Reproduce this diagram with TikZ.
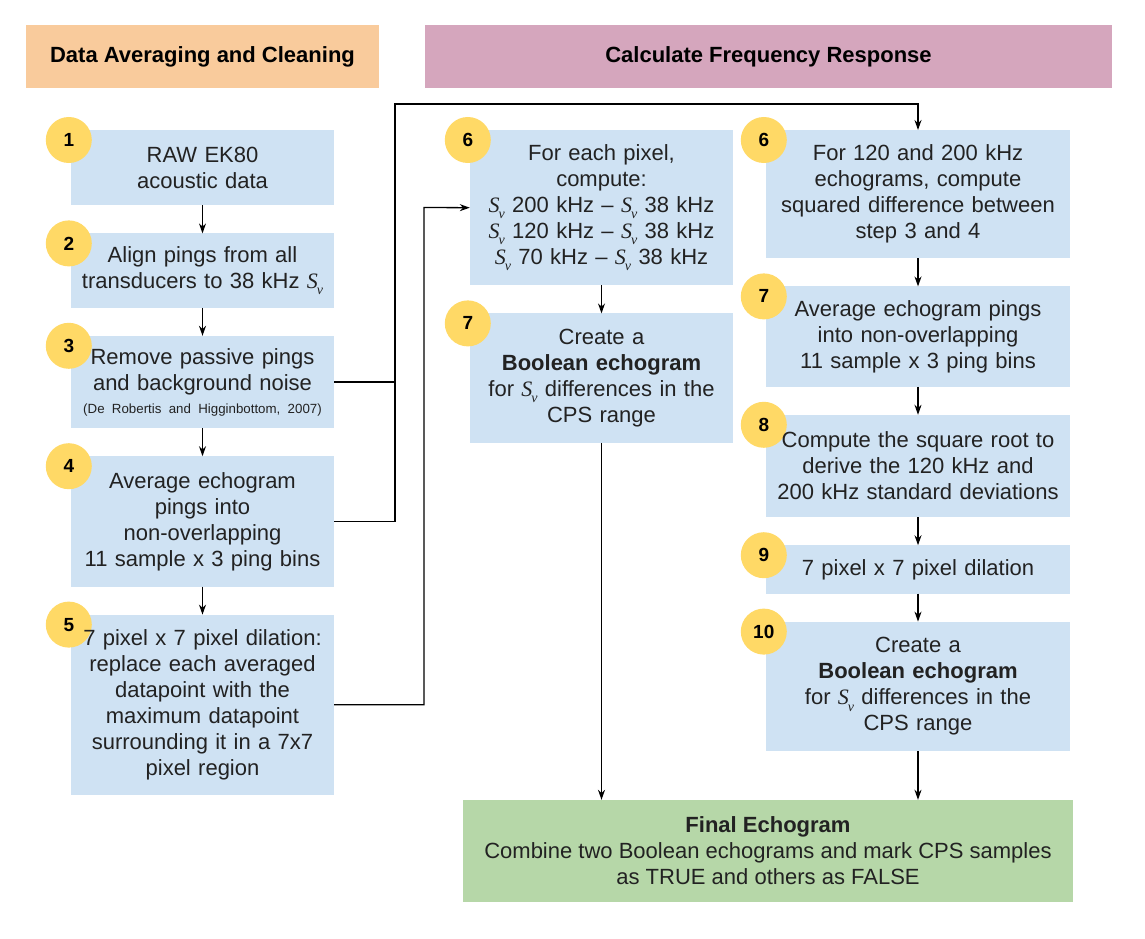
\documentclass[tikz,border=0pt]{standalone}
\usepackage{fontspec}
\setmainfont{Liberation Sans}
\newfontfamily\svserif{Liberation Serif}
\usetikzlibrary{arrows.meta,positioning,calc,backgrounds}
\definecolor{StepBlue}{HTML}{CFE2F3}
\definecolor{TagYellow}{HTML}{FFD966}
\definecolor{CleanOrange}{HTML}{F9CB9C}
\definecolor{FreqPink}{HTML}{D5A6BD}
\definecolor{FinalGreen}{HTML}{B6D7A8}
\definecolor{InkGray}{HTML}{222222}
\newcommand{\Sv}{{\svserif\itshape S}\kern-1pt\raisebox{-0.55ex}{\svserif\itshape\fontsize{14}{14}\selectfont v}}
\newcommand{\citefont}{\fontsize{13.3}{15}\selectfont}

\begin{document}
\begin{tikzpicture}[x=1pt, y=-1pt, node distance=28pt, >=Stealth,
    colbox/.style={text=InkGray, align=center, inner sep=4pt, font=\fontsize{22}{26}\selectfont},
    narrow/.style={colbox, text width=255pt, minimum width=263pt},
    wide/.style={colbox, text width=296pt, minimum width=304pt},
    numtag/.style={circle, fill=TagYellow, minimum size=46pt, inner sep=0pt, font=\fontsize{19}{19}\selectfont\bfseries},
    header/.style={minimum height=63pt, inner sep=0pt, font=\fontsize{22}{26}\selectfont\bfseries},
    flow/.style={-{Stealth[length=10pt,width=7pt]}, line width=1.3pt},
    link/.style={line width=1.3pt}]
  \useasboundingbox (0,0) rectangle (1145,939);

  \node[header, fill=CleanOrange, minimum width=353pt] (hdclean) at (202.5,57) {Data Averaging and Cleaning};
  \node[header, fill=FreqPink, minimum width=687pt] (hdfreq) at (768.5,57) {Calculate Frequency Response};

  \node[narrow, minimum height=75pt, anchor=north] (s1) at (202.5,130) {RAW EK80\\acoustic data};
  \node[narrow, minimum height=74pt, below=of s1] (s2) {Align pings from all\\transducers to 38 kHz \Sv};
  \node[narrow, minimum height=92pt, below=of s2] (s3) {Remove passive pings\\and background noise\\[-3pt]{\citefont\mbox{(De Robertis and Higginbottom, 2007)}}};
  \node[narrow, minimum height=130pt, below=of s3] (s4) {Average echogram\\pings into\\non-overlapping\\11 sample x 3 ping bins};
  \node[narrow, minimum height=180pt, below=of s4] (s5) {7 pixel x 7 pixel dilation:\\replace each averaged\\datapoint with the\\maximum datapoint\\surrounding it in a 7x7\\pixel region};

  \node[narrow, minimum height=155pt, anchor=north] (s6a) at (601.5,130) {For each pixel,\\compute:\\\Sv\ 200 kHz -- \Sv\ 38 kHz\\\Sv\ 120 kHz -- \Sv\ 38 kHz\\\Sv\ 70 kHz -- \Sv\ 38 kHz};
  \node[narrow, minimum height=129pt, below=of s6a] (s7a) {Create a\\\textbf{Boolean echogram}\\for \Sv\ differences in the\\CPS range};

  \node[wide, minimum height=128pt, anchor=north] (s6b) at (918,130) {For 120 and 200 kHz\\echograms, compute\\squared difference between\\step 3 and 4};
  \node[wide, minimum height=100pt, below=of s6b] (s7b) {Average echogram pings\\into non-overlapping\\11 sample x 3 ping bins};
  \node[wide, minimum height=102pt, below=of s7b] (s8) {Compute the square root to\\derive the 120 kHz and\\200 kHz standard deviations};
  \node[wide, minimum height=48pt, below=of s8] (s9) {7 pixel x 7 pixel dilation};
  \node[wide, minimum height=129pt, below=of s9] (s10) {Create a\\\textbf{Boolean echogram}\\for \Sv\ differences in the\\CPS range};

  \node[fill=FinalGreen, text=InkGray, align=center, minimum width=610pt, minimum height=102pt, font=\fontsize{22}{26}\selectfont] (fin) at (768,851) {\textbf{Final Echogram}\\Combine two Boolean echograms and mark CPS samples\\as TRUE and others as FALSE};

  \begin{scope}[on background layer]
    \fill[white] (0,0) rectangle (1145,939);
    \foreach \s in {s1, s2, s3, s4, s5, s6a, s7a, s6b, s7b, s8, s9, s10}
      \fill[StepBlue] (\s.north west) rectangle (\s.south east);
    \foreach \s/\n in {s1/1, s2/2, s3/3, s4/4, s5/5, s6a/6, s7a/7, s6b/6, s7b/7, s8/8, s9/9, s10/10}
      \node[numtag] (tag-\s) at ($(\s.north west)+(-2,10)$) {\n};
  \end{scope}

  \coordinate (busA) at (395,104);
  \coordinate (busB) at (424,207.5);

  \draw[flow] (s1) -- (s2);
  \draw[flow] (s2) -- (s3);
  \draw[flow] (s3) -- (s4);
  \draw[flow] (s4) -- (s5);
  \draw[flow] (s6a) -- (s7a);
  \draw[flow] (s6b) -- (s7b);
  \draw[flow] (s7b) -- (s8);
  \draw[flow] (s8) -- (s9);
  \draw[flow] (s9) -- (s10);
  \draw[flow] (s3.east) -| (busA) -| (s6b.north);
  \draw[link] (s4.east) -| (busA |- s3.east);
  \draw[flow] (s5.east) -| (busB) -- (s6a.west);
  \draw[flow] (s7a.south) -- (s7a.south |- fin.north);
  \draw[flow] (s10.south) -- (s10.south |- fin.north);
\end{tikzpicture}
\end{document}
